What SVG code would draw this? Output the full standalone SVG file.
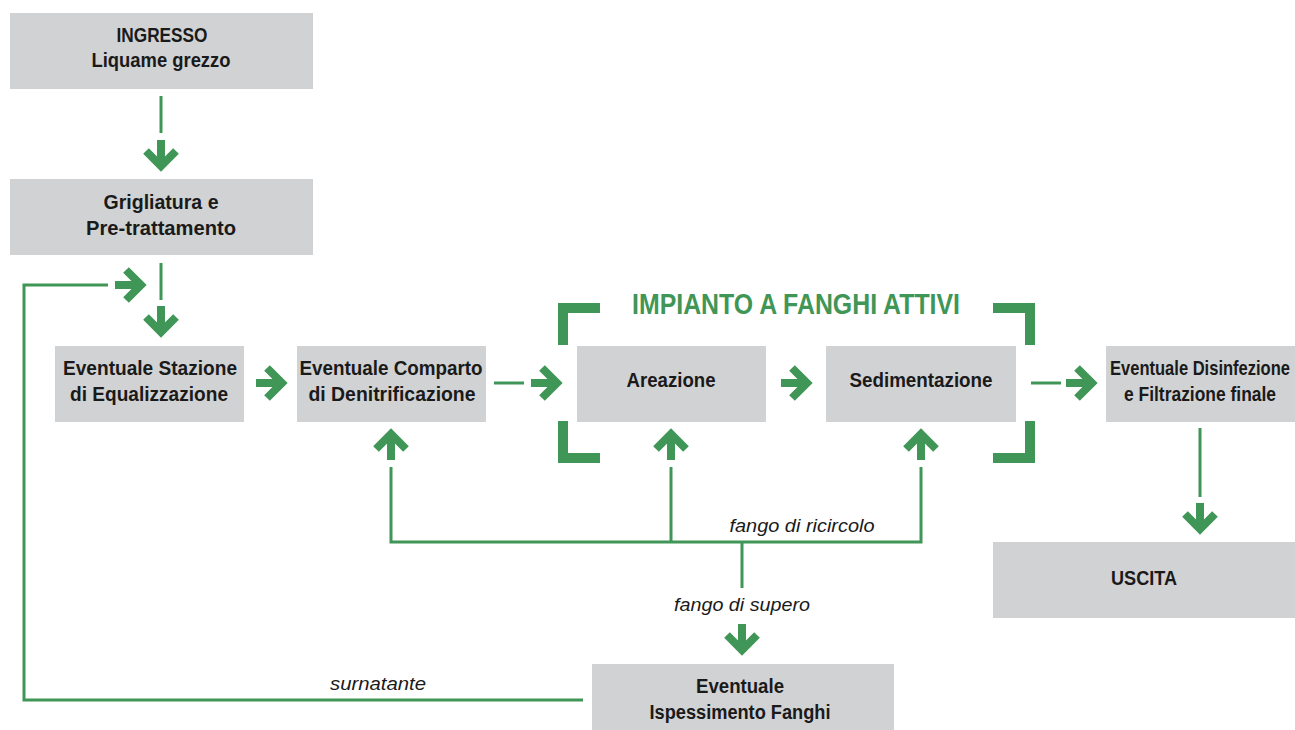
<svg xmlns="http://www.w3.org/2000/svg" width="1295" height="730" viewBox="0 0 1295 730">
  <style>
    .box { fill: #d1d2d4; }
    .lbl { font-family: "Liberation Sans", Arial, sans-serif; font-weight: bold; font-size: 20px; fill: #1a1a1a; text-anchor: middle; }
    .lbl-tight { font-size: 17px; }
    .note { font-family: "Liberation Sans", Arial, sans-serif; font-style: italic; font-size: 19px; fill: #1a1a1a; text-anchor: middle; }
    .title { font-family: "Liberation Sans", Arial, sans-serif; font-weight: bold; font-size: 29px; fill: #3f9656; }
    .wire { fill: none; stroke: #3f9656; stroke-width: 3; }
    .corner { fill: none; stroke: #3f9656; stroke-width: 10; stroke-linejoin: miter; }
    .head { fill: none; stroke: #3f9656; stroke-width: 8; stroke-linejoin: miter; stroke-miterlimit: 4; }
  </style>
  <defs>
    <!-- bold arrow glyph pointing right, tip at the origin -->
    <path id="arrow" class="head" d="M-31,0 H-8 M-20,-15 L-5,0 L-20,15"/>
  </defs>

  <rect width="1295" height="730" fill="#ffffff"/>

  <!-- connectors -->
  <g id="connectors">
    <line class="wire" x1="161" y1="96" x2="161" y2="133"/>
    <use href="#arrow" transform="translate(161,171) rotate(90)"/>

    <line class="wire" x1="161" y1="263" x2="161" y2="300"/>
    <use href="#arrow" transform="translate(161,337) rotate(90)"/>

    <!-- surnatante return -->
    <polyline class="wire" points="583,700 24,700 24,285 108,285"/>
    <use href="#arrow" transform="translate(146,285)"/>

    <use href="#arrow" transform="translate(287,383)"/>

    <line class="wire" x1="494" y1="383" x2="524" y2="383"/>
    <use href="#arrow" transform="translate(562,383)"/>

    <use href="#arrow" transform="translate(812,383)"/>

    <line class="wire" x1="1031" y1="383" x2="1061" y2="383"/>
    <use href="#arrow" transform="translate(1097,383)"/>

    <line class="wire" x1="1200" y1="428" x2="1200" y2="497"/>
    <use href="#arrow" transform="translate(1200,534) rotate(90)"/>

    <!-- sludge recirculation -->
    <polyline class="wire" points="391,467 391,542 921,542 921,467"/>
    <line class="wire" x1="671" y1="467" x2="671" y2="542"/>
    <use href="#arrow" transform="translate(391,429) rotate(-90)"/>
    <use href="#arrow" transform="translate(671,429) rotate(-90)"/>
    <use href="#arrow" transform="translate(921,429) rotate(-90)"/>
    <text class="note" x="802" y="532" textLength="145" lengthAdjust="spacingAndGlyphs">fango di ricircolo</text>

    <!-- excess sludge -->
    <line class="wire" x1="742" y1="542" x2="742" y2="588"/>
    <text class="note" x="742" y="611" textLength="136" lengthAdjust="spacingAndGlyphs">fango di supero</text>
    <use href="#arrow" transform="translate(742,655) rotate(90)"/>

    <text class="note" x="378" y="690" textLength="96" lengthAdjust="spacingAndGlyphs">surnatante</text>
  </g>

  <!-- activated sludge frame -->
  <g id="impianto">
    <path class="corner" d="M563,345 V308 H600"/>
    <path class="corner" d="M563,421 V458 H600"/>
    <path class="corner" d="M993,308 H1030 V345"/>
    <path class="corner" d="M993,458 H1030 V421"/>
    <text class="title" x="796" y="314" text-anchor="middle" textLength="328" lengthAdjust="spacingAndGlyphs">IMPIANTO A FANGHI ATTIVI</text>
  </g>

  <g id="ingresso">
    <rect class="box" x="10" y="13" width="303" height="76"/>
    <text class="lbl" x="162" y="42" textLength="91" lengthAdjust="spacingAndGlyphs">INGRESSO</text>
    <text class="lbl" x="161" y="67" textLength="139" lengthAdjust="spacingAndGlyphs">Liquame grezzo</text>
  </g>

  <g id="grigliatura">
    <rect class="box" x="10" y="179" width="303" height="76"/>
    <text class="lbl" x="161" y="209" textLength="115" lengthAdjust="spacingAndGlyphs">Grigliatura e</text>
    <text class="lbl" x="161" y="235" textLength="150" lengthAdjust="spacingAndGlyphs">Pre-trattamento</text>
  </g>

  <g id="equalizzazione">
    <rect class="box" x="55" y="346" width="189" height="76"/>
    <text class="lbl" x="150" y="375" textLength="174" lengthAdjust="spacingAndGlyphs">Eventuale Stazione</text>
    <text class="lbl" x="149" y="401" textLength="158" lengthAdjust="spacingAndGlyphs">di Equalizzazione</text>
  </g>

  <g id="denitrificazione">
    <rect class="box" x="297" y="346" width="189" height="76"/>
    <text class="lbl" x="391" y="375" textLength="183" lengthAdjust="spacingAndGlyphs">Eventuale Comparto</text>
    <text class="lbl" x="392" y="401" textLength="167" lengthAdjust="spacingAndGlyphs">di Denitrificazione</text>
  </g>

  <g id="areazione">
    <rect class="box" x="577" y="346" width="189" height="76"/>
    <text class="lbl" x="671" y="387" textLength="89" lengthAdjust="spacingAndGlyphs">Areazione</text>
  </g>

  <g id="sedimentazione">
    <rect class="box" x="826" y="346" width="190" height="76"/>
    <text class="lbl" x="921" y="387" textLength="143" lengthAdjust="spacingAndGlyphs">Sedimentazione</text>
  </g>

  <g id="disinfezione">
    <rect class="box" x="1106" y="346" width="189" height="76"/>
    <!-- narrower set size, stretched vertically to the common cap height -->
    <text class="lbl lbl-tight" transform="translate(1200,375) scale(1,1.18)" textLength="180" lengthAdjust="spacingAndGlyphs">Eventuale Disinfezione</text>
    <text class="lbl lbl-tight" transform="translate(1200,401) scale(1,1.18)" textLength="152" lengthAdjust="spacingAndGlyphs">e Filtrazione finale</text>
  </g>

  <g id="uscita">
    <rect class="box" x="993" y="542" width="302" height="76"/>
    <text class="lbl" x="1144" y="585" textLength="66" lengthAdjust="spacingAndGlyphs">USCITA</text>
  </g>

  <g id="ispessimento">
    <rect class="box" x="592" y="664" width="302" height="66"/>
    <text class="lbl" x="740" y="693" textLength="88" lengthAdjust="spacingAndGlyphs">Eventuale</text>
    <text class="lbl" x="740" y="719" textLength="181" lengthAdjust="spacingAndGlyphs">Ispessimento Fanghi</text>
  </g>
</svg>
